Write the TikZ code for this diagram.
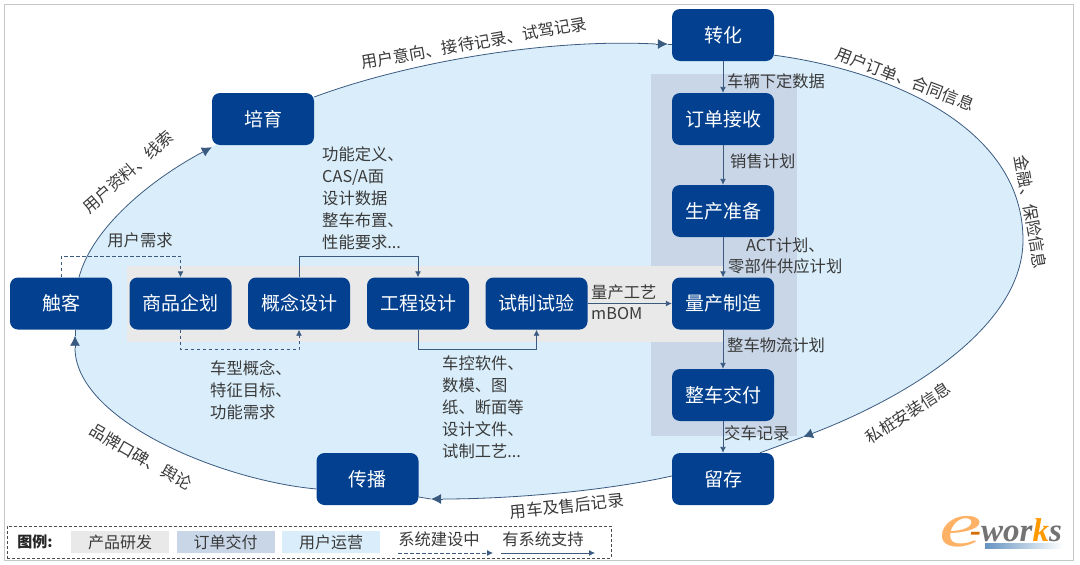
\documentclass[tikz,border=0pt]{standalone}
\usepackage{fontspec}
\setmainfont{Noto Sans CJK SC}
\newfontfamily\logofont{Liberation Serif}
\usetikzlibrary{arrows.meta,backgrounds,calc}
\definecolor{boxblue}{HTML}{03408F}
\definecolor{linecol}{HTML}{3A5A80}
\definecolor{skyfill}{HTML}{D9EEFA}
\definecolor{colfill}{HTML}{C8D6E8}
\definecolor{bandfill}{HTML}{E9E9E9}
\definecolor{txt}{HTML}{3A3A3A}
\tikzset{
  stagebox/.style={fill=boxblue,text=white,rounded corners=8pt,minimum width=102pt,minimum height=52pt,inner sep=0pt,font=\fontsize{19}{20}\selectfont},
  lab/.style={text=txt,inner sep=0pt,font=\fontsize{16.3}{22}\selectfont},
  lableft/.style={lab,anchor=west,align=left},
  arc/.style={draw=linecol,line width=0.8pt},
  bigtip/.style={-{Latex[length=10pt,width=10pt]}},
  flow/.style={draw=linecol,line width=0.9pt,-{Latex[length=6pt,width=6pt]}},
  dashflow/.style={flow,dash pattern=on 3.5pt off 2.5pt},
  legbox/.style={inner sep=0pt,minimum height=22pt,minimum width=98pt,text=txt,font=\fontsize{16}{18}\selectfont},
}
\begin{document}
\begin{tikzpicture}[x=1pt,y=-1pt]
\useasboundingbox (0,0) rectangle (1080,565);
% stage boxes
\node[stagebox] (zhuanhua) at (723,35) {转化};
\node[stagebox] (dingdan) at (723,119) {订单接收};
\node[stagebox] (shengchan) at (723,211) {生产准备};
\node[stagebox] (liangchan) at (723,303.5) {量产制造};
\node[stagebox] (jiaofu) at (723,395) {整车交付};
\node[stagebox] (liucun) at (723,479) {留存};
\node[stagebox] (chuke) at (61,303.5) {触客};
\node[stagebox] (shangpin) at (180.5,303.5) {商品企划};
\node[stagebox] (gainian) at (299,303.5) {概念设计};
\node[stagebox] (gongcheng) at (418,303.5) {工程设计};
\node[stagebox] (shizhi) at (536.5,303.5) {试制试验};
\node[stagebox] (peiyu) at (263,119) {培育};
\node[stagebox] (chuanbo) at (367.5,479) {传播};
% ring anchor points (yshift is canvas-up, so positive moves up in the image)
\coordinate (p0) at ([xshift=18]chuke.north);
\coordinate (p1) at ([yshift=-2]peiyu.south west);
\coordinate (p2) at ([yshift=22]peiyu.east);
\coordinate (p3b) at ([xshift=-16,yshift=-9]zhuanhua.west);
\coordinate (p3a) at ([xshift=-4,yshift=-9]zhuanhua.west);
\coordinate (p3) at ([yshift=-9]zhuanhua.west);
\coordinate (p4) at ([yshift=6]zhuanhua.south east);
\coordinate (p5) at (1023,240);
\coordinate (p6) at (803,437);
\coordinate (p7) at ([xshift=37]liucun.north);
\coordinate (p8) at ([yshift=3]liucun.west);
\coordinate (p9b) at (443,499);
\coordinate (p9a) at (431,499);
\coordinate (p9) at ([yshift=-18]chuanbo.east);
\coordinate (p10) at ([yshift=-10]chuanbo.west);
\coordinate (p11b) at ([xshift=14,yshift=-18]chuke.south);
\coordinate (p11a) at ([xshift=14,yshift=-6]chuke.south);
\coordinate (p11) at ([xshift=14]chuke.south);
\begin{scope}[on background layer]
\fill[white] (0,0) rectangle (1080,565);
\fill[skyfill] (p0) .. controls (92,228) and (150,180) .. (p1)
  .. controls (243,128) and (278,111) .. (p2)
  .. controls (400,65) and (540,38) .. (p3b) -- (p3) -- (p4)
  .. controls (885,70) and (1023,125) .. (p5)
  .. controls (1023,330) and (900,400) .. (p6) -- (p7) -- (p8)
  .. controls (600,492) and (505,499) .. (p9b) -- (p9) -- (p10)
  .. controls (220,480) and (75,420) .. (p11b) -- (p11) -- cycle;
\fill[colfill] (651,74) rectangle (797,436);
\fill[bandfill] (127,266) rectangle (723,342);
\end{scope}
% outer frame
\draw[draw=black!22,line width=0.7pt] (4,4) rectangle (1073,560);
% ring arcs
\draw[arc,bigtip] (p0) .. controls (92,228) and (150,180) .. (p1);
\draw[arc] (p2) .. controls (400,65) and (540,38) .. (p3b);
\draw[arc,bigtip] (p3b) -- (p3a);
\draw[arc] (p3a) -- (p3);
\draw[arc,bigtip] (p4) .. controls (885,70) and (1023,125) .. (p5) .. controls (1023,330) and (900,400) .. (p6);
\draw[arc] (p6) -- (p7);
\draw[arc] (p8) .. controls (600,492) and (505,499) .. (p9b);
\draw[arc,bigtip] (p9b) -- (p9a);
\draw[arc] (p9a) -- (p9);
\draw[arc] (p10) .. controls (220,480) and (75,420) .. (p11b);
\draw[arc,bigtip] (p11b) -- (p11a);
\draw[arc] (p11a) -- (p11);
% vertical flow
\draw[flow] (zhuanhua) -- (dingdan);
\draw[flow] (dingdan) -- (shengchan);
\draw[flow] (shengchan) -- (liangchan);
\draw[flow] (liangchan) -- (jiaofu);
\draw[flow] (jiaofu) -- (liucun);
\draw[flow] (shizhi) -- (liangchan);
% loops
\draw[dashflow] (chuke.north) -- ++(0,-21) -| (shangpin.north);
\draw[dashflow] (shangpin.south) -- ++(0,20) -| (gainian.south);
\draw[flow] (gainian.north) -- ++(0,-21) -| (gongcheng.north);
\draw[flow] (gongcheng.south) -- ++(0,20) -| (shizhi.south);
% ring labels
\node[lab,rotate=41] (t1) at (128,172) {用户资料、线索};
\node[lab,rotate=10] (t2) at (474,43) {用户意向、接待记录、试驾记录};
\node[lab,rotate=-21] (t3) at (905,79) {用户订单、合同信息};
\node[lab,rotate=-80] (t4) at (1031,212) {金融、保险信息};
\node[lab,rotate=33] (t5) at (908,413) {私桩安装信息};
\node[lab,rotate=6] (t6) at (567,506) {用车及售后记录};
\node[lab,rotate=-30] (t7) at (141,457) {品牌口碑、舆论};
% flow labels
\node[lab] (t8) at (140,240) {用户需求};
\node[lableft,anchor=north west] (t9) at (322,146) {功能定义、\\CAS/A面\\设计数据\\整车布置、\\性能要求...};
\node[lableft,anchor=north west] (t10) at (210,360) {车型概念、\\特征目标、\\功能需求};
\node[lableft,anchor=north west] (t11) at (442,356) {车控软件、\\数模、图\\纸、断面等\\设计文件、\\试制工艺...};
\node[lableft] (t12) at (591,292) {量产工艺};
\node[lableft] (t13) at (591,314) {mBOM};
\node[lableft] (t14) at (727,81) {车辆下定数据};
\node[lableft] (t15) at (730,161) {销售计划};
\node[lableft] (t16) at (746,245) {ACT计划、};
\node[lableft] (t17) at (728,266) {零部件供应计划};
\node[lableft] (t18) at (727,345) {整车物流计划};
\node[lableft] (t19) at (724,433) {交车记录};
% legend
\node[draw=black!70,dash pattern=on 3pt off 2pt,line width=0.9pt,minimum width=604pt,minimum height=32pt,inner sep=0pt] (legend) at (309,542) {};
\node[inner sep=0pt,font=\bfseries\fontsize{15}{18}\selectfont,text=black!85] (tuli) at (35,542) {图例:};
\node[legbox,fill=bandfill] (l1) at (120,542) {产品研发};
\node[legbox,fill=colfill] (l2) at (225.5,542) {订单交付};
\node[legbox,fill=skyfill] (l3) at (331,542) {用户运营};
\node[lab] (l4) at (439,539) {系统建设中};
\node[lab] (l5) at (543,539) {有系统支持};
\coordinate (a1) at (398,553);
\coordinate (a2) at (493,553);
\coordinate (b1) at (501,553);
\coordinate (b2) at (595,553);
\draw[dashflow,line width=0.8pt] (a1) -- (a2);
\draw[flow,line width=0.8pt] (b1) -- (b2);
% logo
\shade[left color=blue!50!cyan!60!black!60,right color=white] (985,543) rectangle (1063,548);
\node[inner sep=0pt,xscale=1.5,text=orange!60!white,font=\logofont\itshape\fontsize{64}{64}\selectfont] (logoe) at (961,532) {e};
\node[inner sep=0pt,anchor=west,font=\logofont\bfseries\itshape\fontsize{33}{33}\selectfont,text=black!55] (logow) at (970,530) {\textcolor{orange!85!black}{-}wor\textcolor{orange!80!yellow}{k}s};
\end{tikzpicture}
\end{document}
